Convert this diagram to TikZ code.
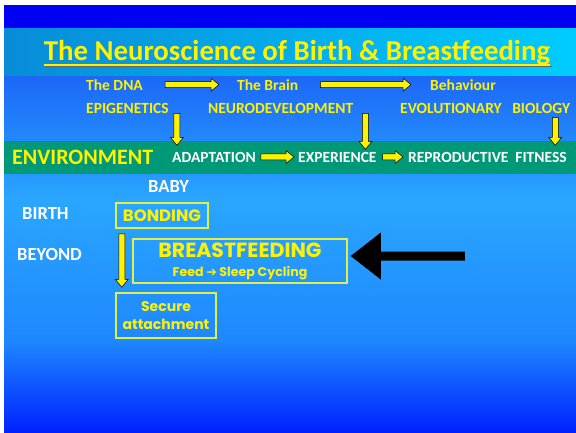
\documentclass[tikz,border=0pt]{standalone}
\usepackage{fontspec}
\setmainfont{Carlito}
\newfontfamily\comicfont{Poppins}
\newfontfamily\arrowfont{DejaVu Sans}
\usetikzlibrary{calc}

\definecolor{topband}{RGB}{0,0,245}
\definecolor{titleL}{RGB}{8,140,216}
\definecolor{titleR}{RGB}{0,204,255}
\definecolor{bgA}{RGB}{28,104,248}
\definecolor{bgB}{RGB}{42,166,255}
\definecolor{bgC}{RGB}{30,136,255}
\definecolor{bgD}{RGB}{0,34,255}
\definecolor{envgreen}{RGB}{0,153,119}
\definecolor{boxline}{RGB}{225,240,70}

\tikzset{
  blockarrow/.style args={#1/#2/#3}{to path={
    let \p1=(\tikztostart), \p2=(\tikztotarget), \n1={atan2(\y2-\y1,\x2-\x1)} in
    ($(\p1)+(\n1+90:#1)$) -- ($(\p2)+(\n1+180:#3)+(\n1+90:#1)$)
    -- ($(\p2)+(\n1+180:#3)+(\n1+90:#2)$) -- (\p2)
    -- ($(\p2)+(\n1+180:#3)+(\n1-90:#2)$) -- ($(\p2)+(\n1+180:#3)+(\n1-90:#1)$)
    -- ($(\p1)+(\n1-90:#1)$) -- cycle}},
  yarrow/.style={blockarrow=3pt/6.5pt/8pt, fill=yellow, draw=black, line width=0.5pt},
  bigarrow/.style={blockarrow=4.5pt/23.5pt/30pt, fill=black},
  lbl/.style={inner sep=0pt, anchor=base west, text=yellow,
    font=\fontsize{15.5}{18}\selectfont\bfseries},
  wlbl/.style={lbl, text=white},
  side/.style={lbl, text=white, font=\fontsize{18.5}{20}\selectfont\bfseries},
  ybox/.style={draw=boxline, line width=1.5pt, inner sep=0pt, align=center,
    text=yellow, font=\comicfont\bfseries\fontsize{16.5}{18}\selectfont}
}

\begin{document}
\begin{tikzpicture}[x=1pt,y=-1pt]
\useasboundingbox (0,0) rectangle (576,432);
\fill[white] (0,0) rectangle (576,432);
\fill[topband] (4,5) rectangle (576,29);
\shade[left color=titleL, right color=titleR] (4,28.5) rectangle (576,77);
\shade[top color=bgA, bottom color=bgB] (4,76.5) rectangle (576,200.5);
\shade[top color=bgB, bottom color=bgC] (4,200) rectangle (576,340.5);
\shade[top color=bgC, bottom color=bgD] (4,340) rectangle (576,432);
\fill[envgreen] (4,141) rectangle (576,174);

\node (title) at (297,60) [lbl, anchor=base, font=\fontsize{28.8}{30}\selectfont\bfseries]
  {The Neuroscience of Birth \& Breastfeeding};
\draw[black!60, line width=1.8pt] ([shift={(1.5pt,-6.5pt)}]title.base west) -- ([shift={(1.5pt,-6.5pt)}]title.base east);
\draw[yellow, line width=1.8pt] ([yshift=-5pt]title.base west) -- ([yshift=-5pt]title.base east);

\node (dna) at (86,90) [lbl] {The DNA};
\node (brain) at (237,90) [lbl] {The Brain};
\node (behav) at (430,90) [lbl] {Behaviour};
\node (epi) at (86,113) [lbl] {EPIGENETICS};
\node (neuro) at (208,113) [lbl] {NEURODEVELOPMENT};
\node (evo) at (400,113) [lbl] {EVOLUTIONARY~~~BIOLOGY};

\path[yarrow] ([xshift=22pt]dna.east) to ([xshift=-18pt]brain.west);
\path[yarrow] ([xshift=22pt]brain.east) to ([xshift=-19pt]behav.west);
\path[yarrow] ([xshift=8pt]epi.south east) to ([shift={(8pt,-32pt)}]epi.south east);
\path[yarrow] ([xshift=12pt]neuro.south east) to ([shift={(12pt,-36pt)}]neuro.south east);
\path[yarrow] ([shift={(-15pt,-4pt)}]evo.south east) to ([shift={(-15pt,-32pt)}]evo.south east);

\node (env) at (12,164) [lbl, font=\fontsize{22}{24}\selectfont\bfseries] {ENVIRONMENT};
\node (adapt) at (172,162) [wlbl] {ADAPTATION};
\node (exper) at (298,162) [wlbl] {EXPERIENCE};
\node (repro) at (408,162) [wlbl] {REPRODUCTIVE~~FITNESS};
\path[yarrow] ([xshift=5pt]adapt.east) to ([xshift=-4pt]exper.west);
\path[yarrow] ([xshift=6pt]exper.east) to ([xshift=-5pt]repro.west);

\node (baby) at (148,192) [side] {BABY};
\node (birth) at (22,219) [side] {BIRTH};
\node (beyond) at (17,260) [side] {BEYOND};

\node (bonding) at (162,215.5) [ybox, minimum width=92pt, minimum height=25pt] {BONDING};
\node (bf) at (240,261) [ybox, minimum width=214pt, minimum height=44pt]
  {\fontsize{20.5}{22}\selectfont BREASTFEEDING\\[1pt]
   \fontsize{12.6}{14}\selectfont Feed {\arrowfont\bfseries ➔} Sleep Cycling};
\node (secure) at (166,315.5) [ybox, minimum width=100pt, minimum height=45pt,
  font=\comicfont\bfseries\fontsize{14}{18}\selectfont] {Secure\\attachment};

\path[yarrow] ([shift={(6.5pt,-5pt)}]bonding.south west) to ([shift={(6.5pt,5pt)}]secure.north west);
\path[bigarrow] ([shift={(117pt,5pt)}]bf.east) to ([shift={(3pt,5pt)}]bf.east);
\end{tikzpicture}
\end{document}
